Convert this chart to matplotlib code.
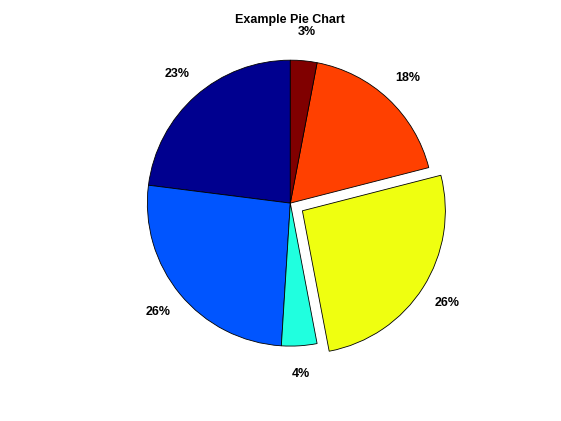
import matplotlib
matplotlib.use("Agg")
import matplotlib.pyplot as plt

# slice data, counterclockwise from the top (MATLAB style)
shares = [23, 26, 4, 26, 18, 3]
labels = ["23%", "26%", "4%", "26%", "18%", "3%"]
explode = [0, 0, 0, 0.1, 0, 0]
colors = ["#00008F", "#0055FF", "#20FFDF", "#EFFF10", "#FF4000", "#800000"]

plt.rcParams["font.family"] = ["Liberation Sans", "DejaVu Sans"]

fig = plt.figure(figsize=(5.61, 4.21), dpi=100)
ax = fig.add_axes([0.13, 0.11, 0.775, 0.815])

wedges, texts = ax.pie(
    shares,
    labels=labels,
    explode=explode,
    colors=colors,
    startangle=90,
    counterclock=True,
    labeldistance=1.2,
    wedgeprops={"edgecolor": "black", "linewidth": 0.6},
    textprops={"fontsize": 9, "fontweight": "bold"},
)
for t in texts:
    t.set_horizontalalignment("center")
    t.set_verticalalignment("center")

ax.set_aspect("equal")
ax.set_xlim(-1.52, 1.52)
ax.set_ylim(-1.2, 1.2)
ax.set_title("Example Pie Chart", fontsize=9, fontweight="bold", pad=6)

fig.savefig("out.png", dpi=100)
plt.close(fig)
